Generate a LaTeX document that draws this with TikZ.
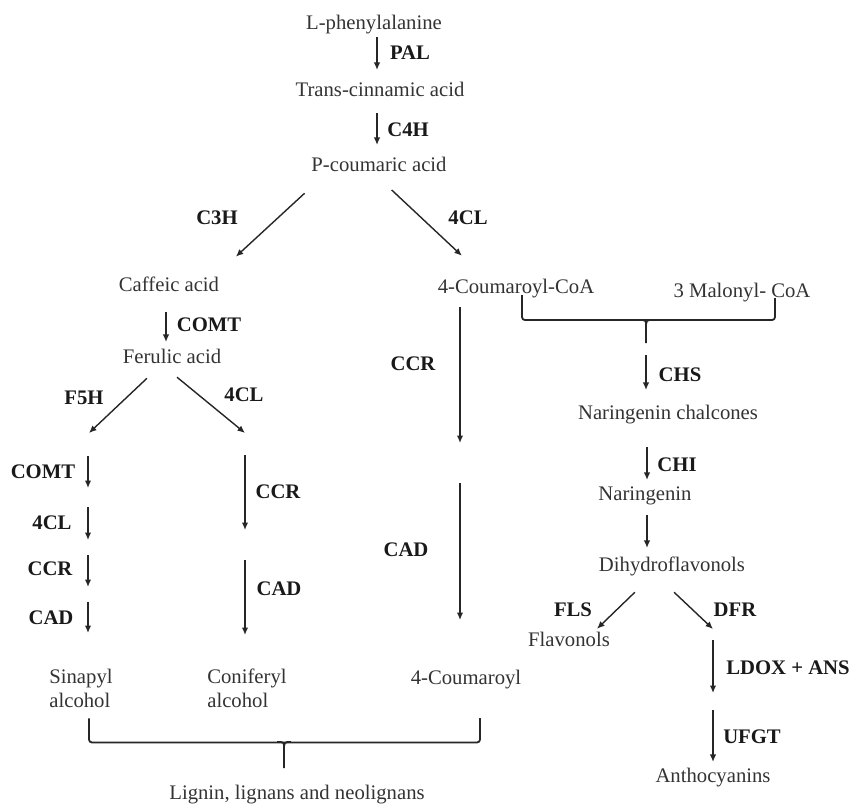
\documentclass[tikz,border=0pt]{standalone}
\usepackage{fontspec}
\setmainfont{Liberation Serif}
\usetikzlibrary{arrows.meta}
\tikzset{
  chem/.style={inner sep=2pt, text height=14.5pt, text depth=5.2pt, text=black!80,
    font=\fontsize{20.7}{24}\selectfont},
  chemtwo/.style={inner sep=2pt, align=left, text=black!80, font=\fontsize{20.7}{24}\selectfont},
  enz/.style={chem, text=black!90, font=\fontsize{20.7}{24}\selectfont\bfseries},
  arr/.style={line width=1.4pt, draw=black!85, -{Latex[length=7.5pt,width=6.5pt]}},
  brace/.style={line width=1.8pt, draw=black!85, rounded corners=3pt},
}
\begin{document}
\begin{tikzpicture}[x=1pt,y=-1pt]
  \useasboundingbox (0,0) rectangle (858,805);
  \foreach \n/\t/\x/\y in {phe/L-phenylalanine/374/25, cin/Trans-cinnamic acid/380/92,
    pcou/P-coumaric acid/379/167, caf/Caffeic acid/169/287, coa/4-Coumaroyl-CoA/516/289,
    mal/3 Malonyl- CoA/742/293, fer/Ferulic acid/172/359, chal/Naringenin chalcones/668/415,
    nar/Naringenin/645/496, dih/Dihydroflavonols/672/567, flav/Flavonols/569/642,
    cou4/4-Coumaroyl/466/680, anth/Anthocyanins/713/778,
    lig/{Lignin, lignans and neolignans}/297/795}
    \node[chem] (\n) at (\x,\y) {\t};
  \node[chemtwo] (sin) at (81,688) {Sinapyl\\alcohol};
  \node[chemtwo] (conif) at (247,688) {Coniferyl\\alcohol};
  \foreach \n/\t/\x/\y in {pal/PAL/410/55, cfh/C4H/408/132, cth/C3H/217/220, fcla/4CL/468/220,
    comta/COMT/209/327, ccra/CCR/413/366, chs/CHS/680/377, ffh/F5H/84/400, fclb/4CL/244/397,
    comtb/COMT/43/474, ccrb/CCR/278/494, chi/CHI/677/467, fclc/4CL/52/525, cada/CAD/406/552,
    ccrc/CCR/50/571, cadb/CAD/279/591, fls/FLS/573/612, dfr/DFR/735/612, cadc/CAD/51/620,
    ldox/LDOX + ANS/788/670, ufgt/UFGT/752/739}
    \node[enz] (\n) at (\x,\y) {\t};
  \foreach \n/\x/\y in {s0/89/433, s1/88/456, s2/88/488, s3/88/507, s4/88/540, s5/88/555,
    s6/88/587, s7/88/602, s8/88/633, c0/245/433, c1/245/455, c2/245/530, c3/245/560,
    c4/245/635, k1/460/443, k2/460/483, k3/460/620, d0/713/629, d1/713/640, d2/713/693,
    d3/713/710, brtop/646/343, brbot/284/768}
    \coordinate (\n) at (\x,\y);
  \foreach \a/\b in {s1/s2, s3/s4, s5/s6, s7/s8, c1/c2, c3/c4, k2/k3, d1/d2}
    \draw[arr] (\a) -- (\b);
  \draw[arr, shorten >=10pt] ([xshift=3pt]phe.south) -- ([xshift=-3pt]cin.north);
  \draw[arr, shorten <=9pt, shorten >=10pt] ([xshift=-3pt]cin.south) -- ([xshift=-2pt]pcou.north);
  \draw[arr, shorten <=21pt, shorten >=27pt] ([xshift=-59pt]pcou.south) -- ([xshift=47pt]caf.north);
  \draw[arr, shorten <=16pt, shorten >=31pt] ([xshift=1pt]pcou.south) -- ([xshift=-31.5pt]coa.north);
  \draw[arr, shorten <=13pt, shorten >=5pt] ([xshift=-3pt]caf.south) -- ([xshift=-6pt]fer.north);
  \draw[arr, shorten <=10.5pt] ([xshift=-17.4pt]fer.south) -- (s0);
  \draw[arr, shorten <=9.7pt] ([xshift=-2.5pt]fer.south) -- (c0);
  \draw[arr, shorten <=6pt] ([xshift=-56pt]coa.south) -- (k1);
  \draw[arr, shorten <=12pt, shorten >=13pt] (brtop) -- (brtop |- chal.north);
  \draw[arr, shorten <=20pt, shorten >=4pt] ([xshift=-21pt]chal.south) -- ([xshift=2pt]nar.north);
  \draw[arr, shorten <=7pt, shorten >=7pt] ([xshift=2pt]nar.south) -- ([xshift=-25pt]dih.north);
  \draw[arr, shorten <=19pt, shorten >=1.7pt] ([xshift=-23.5pt]dih.south) -- ([xshift=26.8pt]flav.north);
  \draw[arr, shorten <=19.2pt] ([xshift=-11.9pt]dih.south) -- (d0);
  \draw[arr, shorten >=4pt] (d3) -- (anth.north);
  \draw[brace] ([xshift=6pt,yshift=6pt]coa.south) -- ++(0,25) -| ([xshift=33pt,yshift=7pt]mal.south);
  \draw[brace] ([shift={(-7,-23)}]brtop) .. controls ([shift={(0,-23)}]brtop) .. ([shift={(0,-14)}]brtop) -- (brtop);
  \draw[brace] ([shift={(7,-23)}]brtop) .. controls ([shift={(0,-23)}]brtop) .. ([shift={(0,-14)}]brtop);
  \draw[brace] ([xshift=8pt,yshift=-9pt]sin.south) -- ++(0,24) -| ([xshift=14pt,yshift=-26pt]cou4.south);
  \draw[brace] ([shift={(-7,-26)}]brbot) .. controls ([shift={(0,-26)}]brbot) .. ([shift={(0,-17)}]brbot) -- (brbot);
  \draw[brace] ([shift={(7,-26)}]brbot) .. controls ([shift={(0,-26)}]brbot) .. ([shift={(0,-17)}]brbot);
\end{tikzpicture}
\end{document}
